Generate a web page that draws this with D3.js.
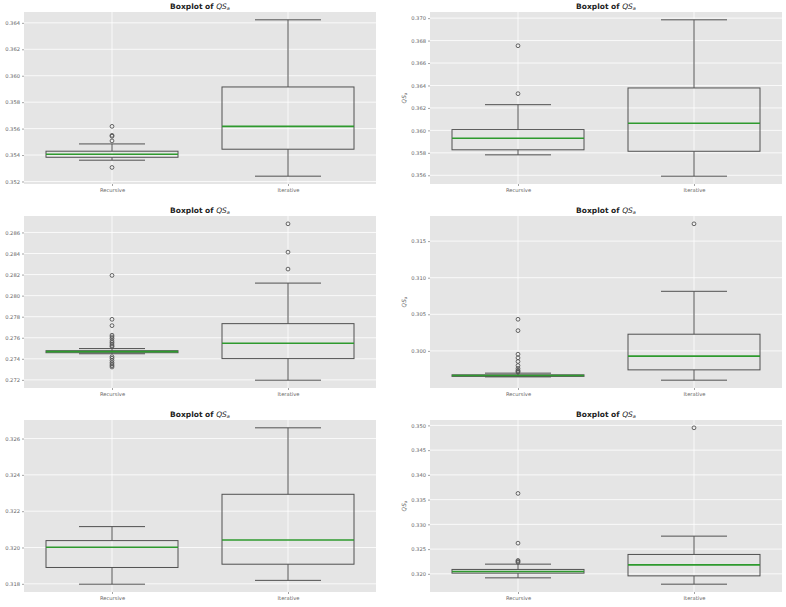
<!DOCTYPE html>
<html>
<head>
<meta charset="utf-8">
<script src="https://cdn.jsdelivr.net/npm/d3@7"></script>
<style>
  body { margin: 0; background: #ffffff; }
  svg { display: block; font-family: "DejaVu Sans", sans-serif; }
</style>
</head>
<body>
<div id="chart"></div>
<script>
var categories = ['Recursive', 'Iterative']

// [whisker low, q1, median, q3, whisker high] per panel
var recursiveStats = [
    [0.35361, 0.35383, 0.35406, 0.35429, 0.35484],
    [0.35782, 0.35827, 0.35930, 0.36007, 0.36229],
    [0.27448, 0.27458, 0.27468, 0.27477, 0.27497],
    [0.29645, 0.29652, 0.29663, 0.29673, 0.29696],
    [0.31798, 0.31890, 0.32001, 0.32038, 0.32115],
    [0.31919, 0.32014, 0.32048, 0.32089, 0.32196]
]
var iterativeStats = [
    [0.35240, 0.35444, 0.35617, 0.35915, 0.36423],
    [0.35592, 0.35814, 0.36063, 0.36378, 0.36985],
    [0.27197, 0.27402, 0.27548, 0.27734, 0.28119],
    [0.29600, 0.29741, 0.29928, 0.30228, 0.30814],
    [0.31819, 0.31908, 0.32041, 0.32293, 0.32659],
    [0.31791, 0.31959, 0.32182, 0.32392, 0.32762]
]
var recursiveOutliers = [
    [0.35617, 0.35549, 0.35542, 0.35507, 0.35306],
    [0.36754, 0.36327],
    [0.28192, 0.27775, 0.27715, 0.27624, 0.27608, 0.27592, 0.27570, 0.27555, 0.27540, 0.27525, 0.27515,
     0.27420, 0.27405, 0.27385, 0.27365, 0.27350, 0.27335, 0.27322],
    [0.30432, 0.30277, 0.29955, 0.29905, 0.29855, 0.29800, 0.29760, 0.29735, 0.29720, 0.29710],
    [],
    [0.33625, 0.32620, 0.32271, 0.32250, 0.32232]
]
var iterativeOutliers = [
    [],
    [],
    [0.28682, 0.28413, 0.28252],
    [0.31736],
    [],
    [0.34951]
]
var yTicks = [
    [0.352, 0.354, 0.356, 0.358, 0.360, 0.362, 0.364],
    [0.356, 0.358, 0.360, 0.362, 0.364, 0.366, 0.368, 0.370],
    [0.272, 0.274, 0.276, 0.278, 0.280, 0.282, 0.284, 0.286],
    [0.300, 0.305, 0.310, 0.315],
    [0.318, 0.320, 0.322, 0.324, 0.326],
    [0.320, 0.325, 0.330, 0.335, 0.340, 0.345, 0.350]
]

var width = 786
var height = 607
var plotW = 352
var plotH = 172
var colX = [24, 430]
var rowY = [12, 216, 420]

var svg = d3.select('#chart').append('svg')
    .attr('width', width)
    .attr('height', height)

function drawPanel(i){
    var col = i % 2
    var row = Math.floor(i / 2)
    var g = svg.append('g')
        .attr('transform', 'translate(' + colX[col] + ',' + rowY[row] + ')')

    var stats = [recursiveStats[i], iterativeStats[i]]
    var outs = [recursiveOutliers[i], iterativeOutliers[i]]

    var all = []
    stats.forEach(function(s){ all.push(s[0], s[4]) })
    outs.forEach(function(o){ all = all.concat(o) })
    var lo = d3.min(all)
    var hi = d3.max(all)
    var pad = (hi - lo) * 0.05

    var y = d3.scaleLinear().domain([lo - pad, hi + pad]).range([plotH, 0])
    var x = d3.scaleLinear().domain([0.5, 2.5]).range([0, plotW])
    var boxW = x(1.75) - x(1)
    var capW = boxW / 2

    g.append('rect')
        .attr('width', plotW)
        .attr('height', plotH)
        .attr('fill', '#e5e5e5')

    // grid
    g.selectAll('line.hgrid')
        .data(yTicks[i])
        .enter()
        .append('line')
        .attr('x1', 0)
        .attr('x2', plotW)
        .attr('y1', function(d){ return y(d) })
        .attr('y2', function(d){ return y(d) })
        .attr('stroke', '#ffffff')
        .attr('stroke-width', 0.8)

    g.selectAll('line.vgrid')
        .data(categories)
        .enter()
        .append('line')
        .attr('x1', function(d, k){ return x(k + 1) })
        .attr('x2', function(d, k){ return x(k + 1) })
        .attr('y1', 0)
        .attr('y2', plotH)
        .attr('stroke', '#ffffff')
        .attr('stroke-width', 0.8)

    // axes
    var yAxis = g.append('g')
        .call(d3.axisLeft(y).tickValues(yTicks[i]).tickSize(2).tickPadding(2).tickFormat(d3.format('.3f')))
    yAxis.select('.domain').remove()

    var xAxis = g.append('g')
        .attr('transform', 'translate(0,' + plotH + ')')
        .call(d3.axisBottom(x).tickValues([1, 2]).tickSize(2).tickPadding(2)
            .tickFormat(function(d){ return categories[d - 1] }))
    xAxis.select('.domain').remove()

    g.selectAll('.tick line').attr('stroke', '#666666').attr('stroke-width', 0.6)
    g.selectAll('.tick text')
        .attr('fill', '#666666')
        .attr('font-size', 5.2)
        .attr('font-family', 'DejaVu Sans, sans-serif')

    // boxes
    stats.forEach(function(s, k){
        var cx = x(k + 1)
        var bg = g.append('g')
        var stroke = '#505050'

        bg.append('line')
            .attr('x1', cx).attr('x2', cx)
            .attr('y1', y(s[0])).attr('y2', y(s[1]))
            .attr('stroke', stroke).attr('stroke-width', 1)
        bg.append('line')
            .attr('x1', cx).attr('x2', cx)
            .attr('y1', y(s[3])).attr('y2', y(s[4]))
            .attr('stroke', stroke).attr('stroke-width', 1)

        bg.append('line')
            .attr('x1', cx - capW / 2).attr('x2', cx + capW / 2)
            .attr('y1', y(s[0])).attr('y2', y(s[0]))
            .attr('stroke', stroke).attr('stroke-width', 1)
        bg.append('line')
            .attr('x1', cx - capW / 2).attr('x2', cx + capW / 2)
            .attr('y1', y(s[4])).attr('y2', y(s[4]))
            .attr('stroke', stroke).attr('stroke-width', 1)

        bg.append('rect')
            .attr('x', cx - boxW / 2)
            .attr('y', y(s[3]))
            .attr('width', boxW)
            .attr('height', Math.max(0.5, y(s[1]) - y(s[3])))
            .attr('fill', 'none')
            .attr('stroke', stroke)
            .attr('stroke-width', 1)

        bg.append('line')
            .attr('x1', cx - boxW / 2).attr('x2', cx + boxW / 2)
            .attr('y1', y(s[2])).attr('y2', y(s[2]))
            .attr('stroke', '#2e9a2e').attr('stroke-width', 1.6)

        bg.selectAll('circle')
            .data(outs[k])
            .enter()
            .append('circle')
            .attr('cx', cx)
            .attr('cy', function(d){ return y(d) })
            .attr('r', 1.9)
            .attr('fill', 'none')
            .attr('stroke', '#555555')
            .attr('stroke-width', 0.9)
    })

    // title
    var title = g.append('text')
        .attr('x', plotW / 2)
        .attr('y', -3.5)
        .attr('text-anchor', 'middle')
        .attr('font-size', 7.5)
        .attr('fill', '#222222')
    title.append('tspan').attr('font-weight', 'bold').text('Boxplot of ')
    title.append('tspan').attr('font-style', 'italic').text('QS')
    title.append('tspan').attr('font-style', 'italic').attr('font-size', 5).attr('dy', 1.5).text('a')

    if(col === 1){
        var yl = g.append('text')
            .attr('transform', 'translate(-24,' + (plotH / 2) + ') rotate(-90)')
            .attr('text-anchor', 'middle')
            .attr('font-size', 5.8)
            .attr('fill', '#666666')
        yl.append('tspan').attr('font-style', 'italic').text('QS')
        yl.append('tspan').attr('font-style', 'italic').attr('font-size', 4.2).attr('dy', 1.2).text('a')
    }
}

for(var i = 0; i < 6; i++){
    drawPanel(i)
}
</script>
</body>
</html>
